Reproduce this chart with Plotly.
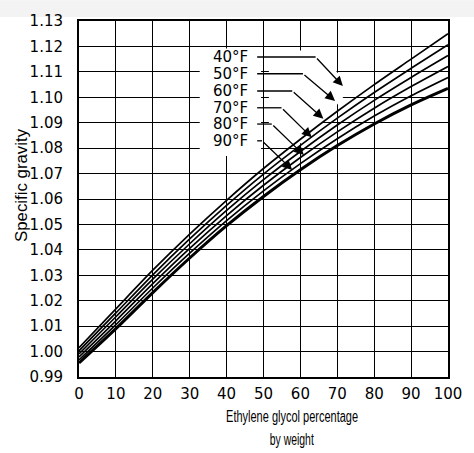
import plotly.graph_objects as go

# ---------------- data ----------------
percent = [0, 10, 20, 30, 40, 50, 60, 70, 80, 90, 100]
sg_40F = [1.0015, 1.0168, 1.0320, 1.0462, 1.0595, 1.0720, 1.0835, 1.0945, 1.1050, 1.1150, 1.1250]
sg_50F = [1.0003, 1.0152, 1.0302, 1.0443, 1.0575, 1.0698, 1.0811, 1.0918, 1.1019, 1.1114, 1.1207]
sg_60F = [0.9991, 1.0137, 1.0285, 1.0424, 1.0555, 1.0676, 1.0787, 1.0891, 1.0988, 1.1078, 1.1164]
sg_70F = [0.9979, 1.0121, 1.0267, 1.0406, 1.0535, 1.0654, 1.0763, 1.0864, 1.0957, 1.1042, 1.1121]
sg_80F = [0.9967, 1.0106, 1.0250, 1.0387, 1.0515, 1.0632, 1.0739, 1.0837, 1.0926, 1.1006, 1.1078]
sg_90F = [0.9955, 1.0090, 1.0232, 1.0368, 1.0495, 1.0610, 1.0715, 1.0810, 1.0895, 1.0970, 1.1035]
temp_labels = ["40°F", "50°F", "60°F", "70°F", "80°F", "90°F"]
x_ticks = [0, 10, 20, 30, 40, 50, 60, 70, 80, 90, 100]
y_ticks = [0.99, 1.00, 1.01, 1.02, 1.03, 1.04, 1.05, 1.06, 1.07, 1.08, 1.09, 1.10, 1.11, 1.12, 1.13]
x_title = ["Ethylene glycol percentage", "by weight"]
y_title = "Specific gravity"

series = [sg_40F, sg_50F, sg_60F, sg_70F, sg_80F, sg_90F]

# ---------------- layout geometry (pixels) ----------------
W, H = 474, 453
L, R, T, B = 79, 16, 16, 76
PW, PH = W - L - R, H - T - B
XMIN, XMAX, YMIN, YMAX = 0, 100, 0.99, 1.13


def dx(px):
    return XMIN + (px - L) / PW * (XMAX - XMIN)


def dy(py):
    return YMAX - (py - T) / PH * (YMAX - YMIN)


def paper_x(px):
    return (px - L) / PW


def paper_y(py):
    return (H - B - py) / PH


FONT = "DejaVu Sans, Liberation Sans, sans-serif"
TFONT = "Liberation Sans, Arial, sans-serif"

fig = go.Figure()
for s, lab in zip(series, temp_labels):
    fig.add_trace(go.Scatter(
        x=percent, y=s, mode="lines", name=lab,
        line=dict(color="black", width=3.0 if lab == "90°F" else 1.7, shape="spline", smoothing=0.8),
        hoverinfo="skip", showlegend=False,
    ))

shapes = []
# light scan strip at the top
shapes.append(dict(type="rect", xref="paper", yref="paper", x0=-1, x1=2,
                   y0=paper_y(12), y1=paper_y(-5), fillcolor="#f3f3f3", line=dict(width=0), layer="below"))
# cleared area behind labels and leaders (hides grid lines)
shapes.append(dict(type="rect", xref="x", yref="y", x0=dx(203), x1=dx(266), y0=dy(153), y1=dy(44),
                   fillcolor="white", line=dict(width=0), layer="between"))
shapes.append(dict(type="path", xref="x", yref="y",
                   path="M {},{} L {},{} L {},{} L {},{} L {},{} Z".format(
                       dx(274), dy(46), dx(325), dy(46), dx(358), dy(84), dx(312), dy(140), dx(274), dy(140)),
                   fillcolor="white", line=dict(width=0), layer="between"))

label_y = [52.5, 69.5, 87, 104, 120.5, 137.5]
bend_x = [322, 309, 298, 287, 277, 267]
tips = [(350, 82), (342, 97), (330, 115), (318, 134), (310, 152), (298, 167)]
annotations = []
for lab, ly, bx, (tx, ty) in zip(temp_labels, label_y, bend_x, tips):
    annotations.append(dict(x=paper_x(255), y=paper_y(ly), xref="paper", yref="paper", text=lab,
                            showarrow=False, xanchor="right", yanchor="middle",
                            font=dict(family=FONT, size=15, color="black")))
    shapes.append(dict(type="line", xref="x", yref="y", x0=dx(262), y0=dy(ly), x1=dx(bx), y1=dy(ly),
                       line=dict(color="black", width=1.3)))
    annotations.append(dict(x=dx(tx), y=dy(ty), xref="x", yref="y", ax=dx(bx), ay=dy(ly),
                            axref="x", ayref="y", text="", showarrow=True, arrowhead=2,
                            arrowsize=1.5, arrowwidth=1.3, arrowcolor="black"))

# axis titles
annotations.append(dict(x=paper_x(298), y=paper_y(417), xref="paper", yref="paper",
                        text=x_title[0], showarrow=False, xanchor="center", yanchor="middle",
                        font=dict(family=TFONT, size=16, color="black")))
annotations.append(dict(x=paper_x(298), y=paper_y(440), xref="paper", yref="paper",
                        text=x_title[1], showarrow=False, xanchor="center", yanchor="middle",
                        font=dict(family=TFONT, size=16, color="black")))
annotations.append(dict(x=paper_x(20), y=paper_y(183), xref="paper", yref="paper",
                        text=y_title, showarrow=False, textangle=-90, xanchor="center", yanchor="middle",
                        font=dict(family=TFONT, size=16, color="black")))

axis_common = dict(showgrid=True, gridcolor="black", gridwidth=1, zeroline=False,
                   showline=True, linecolor="black", linewidth=2, mirror=True,
                   ticks="", tickfont=dict(family=FONT, size=15, color="black"))

fig.update_layout(
    width=W, height=H, margin=dict(l=L, r=R, t=T, b=B),
    paper_bgcolor="white", plot_bgcolor="white",
    xaxis=dict(range=[XMIN, XMAX], tickvals=x_ticks, ticktext=[str(v) for v in x_ticks],
               ticklabelstandoff=2, **axis_common),
    yaxis=dict(range=[YMIN, YMAX], tickvals=y_ticks, ticktext=["{:.2f}".format(v) for v in y_ticks],
               ticklabelstandoff=11, **axis_common),
    shapes=shapes, annotations=annotations,
)

# remove default page margin and narrow the lettering of the axis titles
post = """
document.body.style.margin = '0';
document.body.style.overflow = 'hidden';
var widths = {'Ethylene glycol percentage': 132, 'by weight': 44, 'Specific gravity': 113};
document.querySelectorAll('text.annotation-text').forEach(function(t) {
  var w = widths[t.textContent];
  if (w) { t.setAttribute('textLength', w); t.setAttribute('lengthAdjust', 'spacingAndGlyphs'); }
});
"""
fig.write_html("out.html", post_script=post, config={"displayModeBar": False, "staticPlot": True})
